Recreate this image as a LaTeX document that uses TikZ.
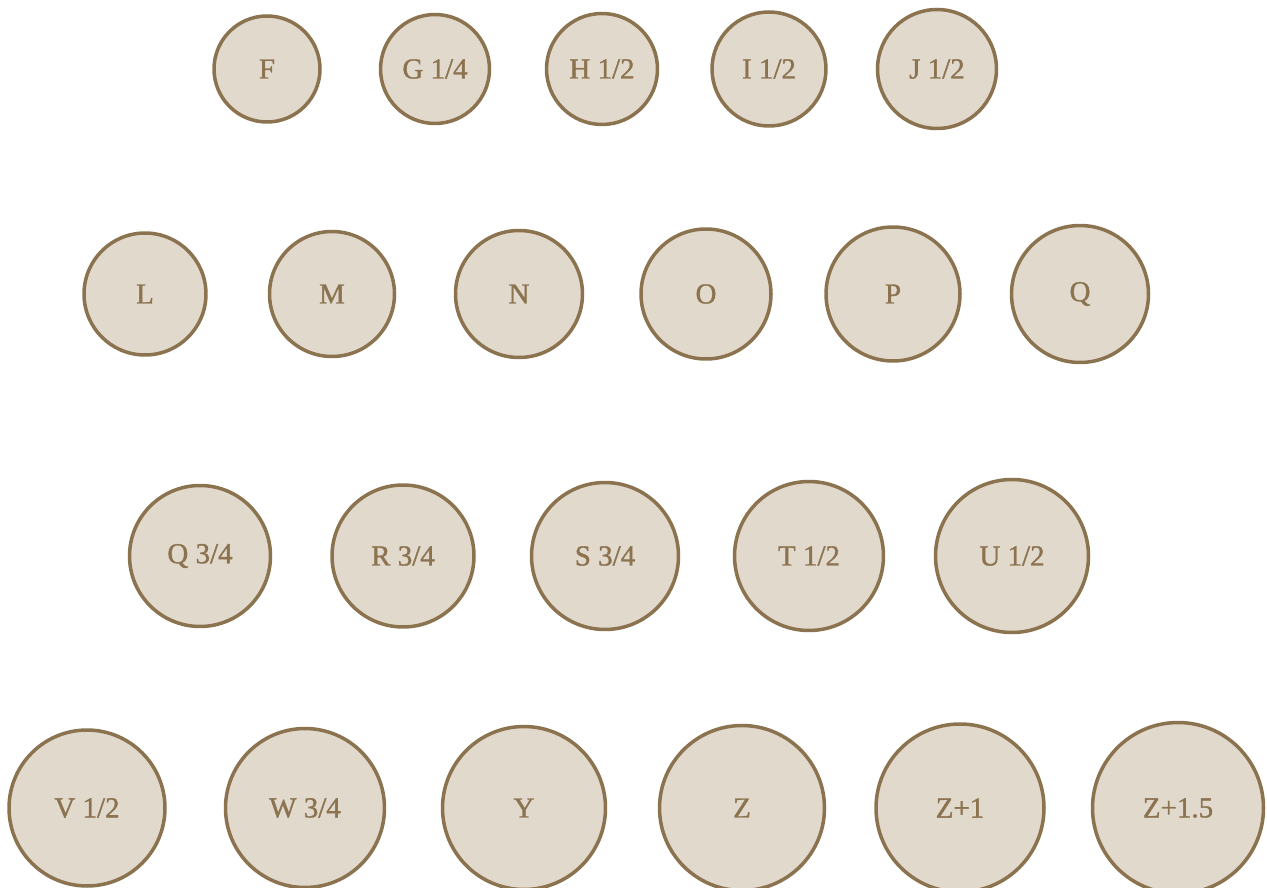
\documentclass[tikz,border=0pt]{standalone}
\usepackage{fontspec}
\setmainfont{Liberation Serif}
\newfontfamily\discfont[FakeBold=1.2]{Liberation Serif}
\definecolor{ringbrown}{HTML}{8B7350}
\definecolor{discfill}{HTML}{E2D9CD}
\begin{document}
\begin{tikzpicture}[x=0.02cm, y=-0.02cm,
  disc/.style={circle, draw=ringbrown, fill=discfill, line width=2pt, inner sep=0pt,
    text=ringbrown, font=\discfont\fontsize{16.5}{18}\selectfont, minimum size=#1}]
\useasboundingbox (0,0) rectangle (1267,888);
% first row
\node[disc=2.12cm] (f) at (267,69) {F};
\node[disc=2.18cm] (g) at (435,69) {G 1/4};
\node[disc=2.22cm] (h) at (602,69) {H 1/2};
\node[disc=2.28cm] (i) at (769,69) {I 1/2};
\node[disc=2.38cm] (j) at (937,69) {J 1/2};
% second row
\node[disc=2.44cm] (l) at (145,294) {L};
\node[disc=2.50cm] (m) at (332,294) {M};
\node[disc=2.54cm] (n) at (519,294) {N};
\node[disc=2.60cm] (o) at (706,294) {O};
\node[disc=2.68cm] (p) at (893,294) {P};
\node[disc=2.74cm] (q) at (1080,294) {Q};
% third row
\node[disc=2.82cm] (q34) at (200,556) {Q 3/4};
\node[disc=2.84cm] (r34) at (403,556) {R 3/4};
\node[disc=2.94cm] (s34) at (605,556) {S 3/4};
\node[disc=2.98cm] (t12) at (809,556) {T 1/2};
\node[disc=3.06cm] (u12) at (1012,556) {U 1/2};
% fourth row
\node[disc=3.12cm] (v12) at (87,808) {V 1/2};
\node[disc=3.18cm] (w34) at (305,808) {W 3/4};
\node[disc=3.26cm] (y) at (524,808) {Y};
\node[disc=3.30cm] (z) at (742,808) {Z};
\node[disc=3.36cm] (z1) at (960,808) {Z+1};
\node[disc=3.42cm] (z15) at (1178,808) {Z+1.5};
\end{tikzpicture}
\end{document}
